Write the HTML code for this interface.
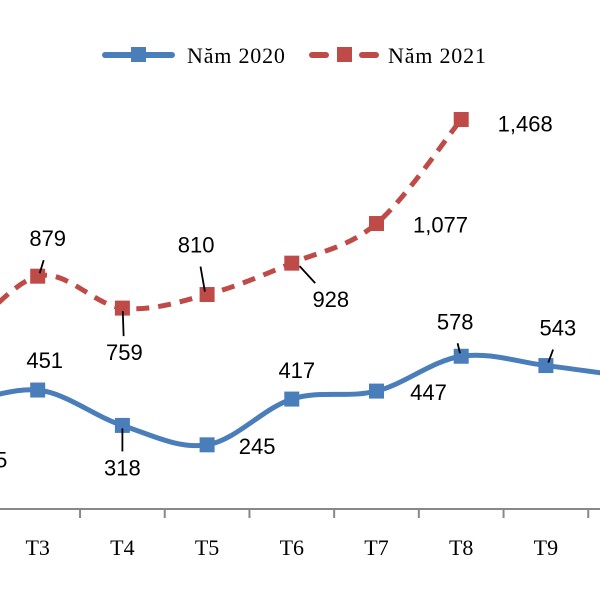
<!DOCTYPE html>
<html><head><meta charset="utf-8"><style>
html,body{margin:0;padding:0;background:#fff;width:600px;height:600px;overflow:hidden}
svg{display:block}
.lbl{font-family:"Liberation Sans",sans-serif;font-size:22px;fill:#000}
.ax{font-family:"Liberation Serif",serif;font-size:22px;fill:#000}
.lg{font-family:"Liberation Serif",serif;font-size:22px;fill:#000;letter-spacing:0.8px}
</style></head><body>
<svg id="chart" width="600" height="600" viewBox="0 0 600 600">
<g>
<g>
<line x1="105" y1="55" x2="172" y2="55" stroke="#4a7ebb" stroke-width="6" stroke-linecap="round"/>
<rect x="131" y="47" width="15" height="15" fill="#4a7ebb"/>
<text class="lg" x="187" y="63">Năm 2020</text></g>
<g>
<line x1="312" y1="55" x2="326" y2="55" stroke="#be4b48" stroke-width="6" stroke-linecap="round"/>
<line x1="362" y1="55" x2="376" y2="55" stroke="#be4b48" stroke-width="6" stroke-linecap="round"/>
<rect x="337" y="47" width="15" height="15" fill="#be4b48"/>
<text class="lg" x="388" y="63">Năm 2021</text></g>
</g>
<g id="plot"></g>
</svg>
<script>
const categories=["T2","T3","T4","T5","T6","T7","T8","T9","T10"];
const values2020=[385,451,318,245,417,447,578,543,500];
const values2021=[600,879,759,810,928,1077,1468];
const labels2020=["385","451","318","245","417","447","578","543","500"];
const labels2021=["600","879","759","810","928","1,077","1,468"];
const X0=-47,DX=84.7,Y0=510,K=0.266;
function xs(i){return X0+i*DX;}
function ys(v){return Y0-v*K;}
const NS="http://www.w3.org/2000/svg";
const g=document.getElementById('plot');
function mk(t,a){const e=document.createElementNS(NS,t);for(const k in a)e.setAttribute(k,a[k]);g.appendChild(e);return e;}
let ax=mk('line',{x1:0,y1:509,x2:600,y2:509,stroke:'#888','stroke-width':2});


categories.forEach((c,i)=>{
 const tk=mk('line',{x1:xs(i)+DX/2,y1:509,x2:xs(i)+DX/2,y2:518,stroke:'#888','stroke-width':2});
 
 
 const t=mk('text',{x:xs(i),y:555,'text-anchor':'middle','class':'ax'});t.textContent=c;
 
 
});
function path(vals){
 const p=vals.map((v,i)=>[xs(i),ys(v)]);
 let d='M'+p[0][0]+','+p[0][1];
 for(let i=0;i<p.length-1;i++){
  const a=p[i-1]||p[i],b=p[i],c=p[i+1],e=p[i+2]||c,t=0.17;
  d+=' C'+(b[0]+(c[0]-a[0])*t)+','+(b[1]+(c[1]-a[1])*t)+' '+(c[0]-(e[0]-b[0])*t)+','+(c[1]-(e[1]-b[1])*t)+' '+c[0]+','+c[1];
 }
 return d;
}
const off2020=[[36,60,0],[7,-22,0],[0,50,1],[50,9,0],[5,-21,0],[52,9,0],[-6,-27,1],[12,-30,1],[12,-30,0]];
const off2021=[[0,-40,0],[10,-30,1],[2,52,1],[-11,-42,1],[39,44,1],[64,9,0],[64,12,0]];
function series(vals,labs,offs,color,dash,name){
 const l=mk('path',{d:path(vals),fill:'none',stroke:color,'stroke-width':5,'stroke-dasharray':dash});
 
 
 vals.forEach((v,i)=>{
  const x=xs(i),y=ys(v);
  const r=mk('rect',{x:x-7.5,y:y-7.5,width:15,height:15,fill:color});
  
  
  const o=offs[i];
  if(o[2]){
   const ty=y+o[1]+(o[1]<0?14:-24);
   const ln=mk('line',{x1:x+o[0]*0.2,y1:y+(o[1]<0?-3:3),x2:x+o[0]*0.6,y2:ty,stroke:'#000','stroke-width':1.8});
   
   
  }
  const t=mk('text',{x:x+o[0],y:y+o[1],'text-anchor':'middle','class':'lbl'});t.textContent=labs[i];
  
  
 });
}
series(values2021,labels2021,off2021,'#be4b48','13,9','series-2021');
series(values2020,labels2020,off2020,'#4a7ebb','none','series-2020');
</script>
</body></html>
